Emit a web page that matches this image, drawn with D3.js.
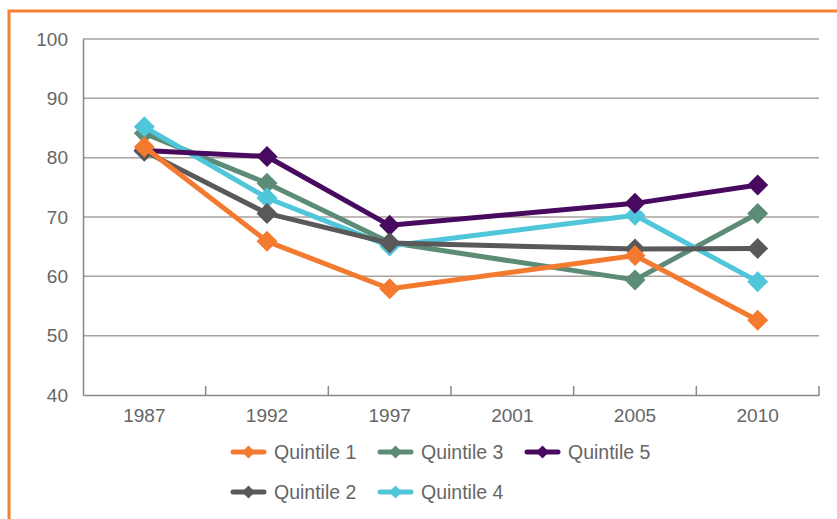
<!DOCTYPE html>
<html>
<head>
<meta charset="utf-8">
<script src="https://cdn.jsdelivr.net/npm/d3@7"></script>
<style>
  html, body { margin: 0; padding: 0; background: #fff; }
  svg { display: block; }
  text { font-family: "Liberation Sans", Arial, sans-serif; fill: #666; }
</style>
</head>
<body>
<svg id="chart" width="837" height="519"></svg>
<script>
const years = ["1987", "1992", "1997", "2001", "2005", "2010"];
const yTicks = [40, 50, 60, 70, 80, 90, 100];
const seriesNames = ["Quintile 1", "Quintile 2", "Quintile 3", "Quintile 4", "Quintile 5"];
const q1 = [81.8, 65.9, 57.9, null, 63.5, 52.6];
const q2 = [81.1, 70.6, 65.6, null, 64.6, 64.7];
const q3 = [84.1, 75.7, 65.7, null, 59.4, 70.6];
const q4 = [85.2, 73.2, 65.1, null, 70.3, 59.1];
const q5 = [81.2, 80.2, 68.6, null, 72.3, 75.4];
const colors = ["#F47A30", "#595959", "#5D8C76", "#50C6DB", "#480A5E"];

const seriesValues = [q1, q2, q3, q4, q5];
const svg = d3.select("#chart");

// outer orange frame
svg.append("rect").attr("x", 9).attr("y", 11).attr("width", 860).attr("height", 540)
  .attr("fill", "none").attr("stroke", "#F58233").attr("stroke-width", 3);

const plotL = 83, plotR = 819, plotT = 39, plotB = 395;
const x = d3.scaleBand().domain(years).range([plotL, plotR]);
const y = d3.scaleLinear().domain([40, 100]).range([plotB, plotT]);
const fontFam = '"Liberation Sans", Arial, sans-serif';

// gridlines
svg.append("g").selectAll("line").data(yTicks.filter(t => t > 40)).join("line")
  .attr("x1", plotL).attr("x2", plotR)
  .attr("y1", d => y(d)).attr("y2", d => y(d))
  .attr("stroke", "#a8a29e").attr("stroke-width", 1.5);

// y axis
const yAxis = svg.append("g").attr("transform", `translate(${plotL},0)`)
  .call(d3.axisLeft(y).tickValues(yTicks).tickSize(0).tickPadding(15));
yAxis.select(".domain").attr("stroke", "#8e8682").attr("stroke-width", 1.5);
yAxis.selectAll("text").attr("font-size", 19).attr("fill", "#666")
  .style("font-family", fontFam);

// x axis
const xAxis = svg.append("g").attr("transform", `translate(0,${plotB})`)
  .call(d3.axisBottom(x).tickSize(0).tickPadding(14));
xAxis.select(".domain").attr("stroke", "#8e8682").attr("stroke-width", 1.5);
xAxis.selectAll("text").attr("font-size", 19).attr("fill", "#666")
  .style("font-family", fontFam);
// inside tick marks at band boundaries
const bounds = years.map(yr => x(yr) + x.bandwidth());
svg.append("g").selectAll("line").data(bounds).join("line")
  .attr("x1", d => d).attr("x2", d => d)
  .attr("y1", plotB).attr("y2", plotB - 9)
  .attr("stroke", "#8e8682").attr("stroke-width", 1.5);

const cx = yr => x(yr) + x.bandwidth() / 2;
const line = d3.line().x(d => cx(d.year)).y(d => y(d.v));
const diamond = (s) => `M0,${-s}L${s},0L0,${s}L${-s},0Z`;

const drawOrder = [2, 3, 4, 1, 0];
drawOrder.forEach(i => {
  const pts = years.map((yr, j) => ({ year: yr, v: seriesValues[i][j] })).filter(d => d.v != null);
  const g = svg.append("g");
  g.append("path").attr("d", line(pts)).attr("fill", "none")
    .attr("stroke", colors[i]).attr("stroke-width", 5).attr("stroke-linejoin", "round");
  g.selectAll("path.m").data(pts).join("path").attr("class", "m")
    .attr("d", diamond(10.5))
    .attr("transform", d => `translate(${cx(d.year)},${y(d.v)})`)
    .attr("fill", colors[i]);
});

// legend (3 columns, column-major)
const legendPos = [
  { x: 233, y: 452 }, { x: 233, y: 492 },
  { x: 380, y: 452 }, { x: 380, y: 492 },
  { x: 527, y: 452 }
];
seriesNames.forEach((name, i) => {
  const p = legendPos[i];
  const g = svg.append("g").attr("transform", `translate(${p.x},${p.y})`);
  g.append("line").attr("x1", 0).attr("x2", 31).attr("y1", 0).attr("y2", 0)
    .attr("stroke", colors[i]).attr("stroke-width", 5).attr("stroke-linecap", "round");
  g.append("path").attr("d", diamond(6.5)).attr("transform", "translate(15.5,0)").attr("fill", colors[i]);
  g.append("text").attr("x", 41).attr("y", 0).attr("dy", "0.35em")
    .attr("font-size", 19.5).text(name);
});
</script>
</body>
</html>
